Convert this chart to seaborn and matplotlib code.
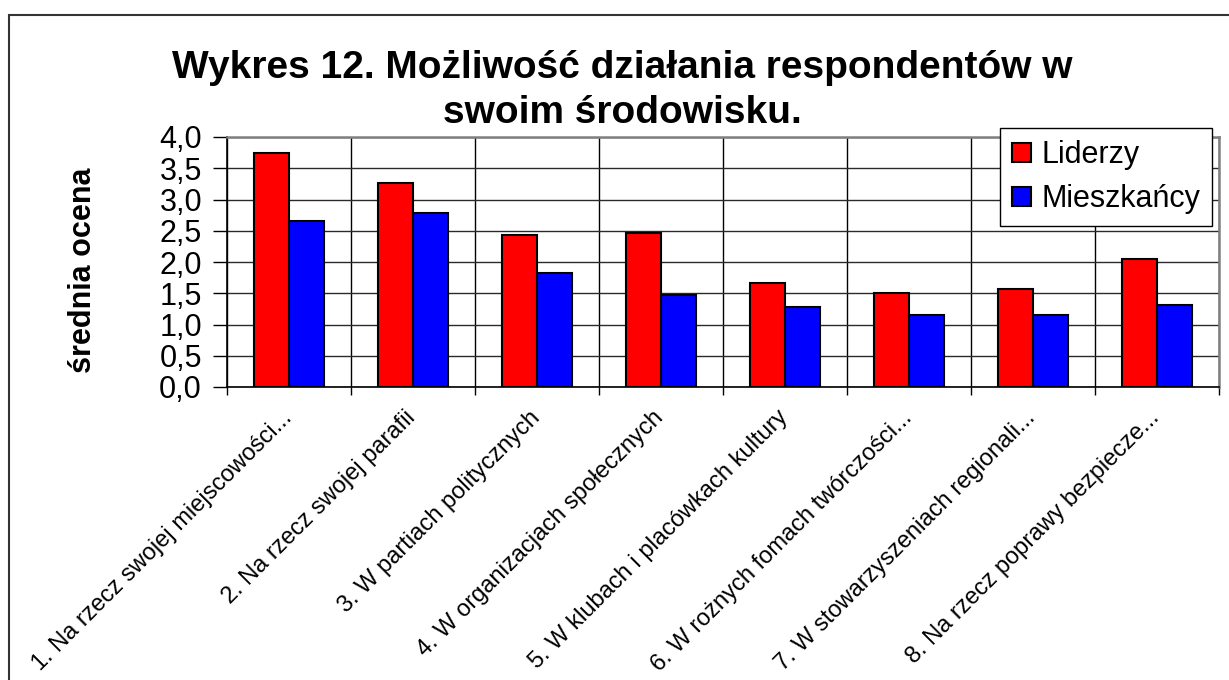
import matplotlib
matplotlib.use('Agg')
import matplotlib.pyplot as plt
import matplotlib.transforms as mtransforms
from matplotlib.ticker import FuncFormatter
from matplotlib.patches import Rectangle
import seaborn as sns
import pandas as pd
import numpy as np

# ---- data ----
categories = [
    "1. Na rzecz swojej miejscowości...",
    "2. Na rzecz swojej parafii",
    "3. W partiach politycznych",
    "4. W organizacjach społecznych",
    "5. W klubach i placówkach kultury",
    "6. W rożnych fomach twórczości...",
    "7. W stowarzyszeniach regionali...",
    "8. Na rzecz poprawy bezpiecze...",
]
liderzy = [3.74, 3.27, 2.43, 2.46, 1.66, 1.51, 1.57, 2.05]
mieszkancy = [2.66, 2.79, 1.83, 1.48, 1.28, 1.16, 1.15, 1.32]
series_names = ["Liderzy", "Mieszkańcy"]
y_ticks = [0.0, 0.5, 1.0, 1.5, 2.0, 2.5, 3.0, 3.5, 4.0]
title_lines = ["Wykres 12. Możliwość działania respondentów w", "swoim środowisku."]
y_label = "średnia ocena"

sns.set_theme(style="white")
plt.rcParams['font.family'] = ['Liberation Sans', 'DejaVu Sans']
plt.rcParams['text.color'] = 'black'
plt.rcParams['axes.labelcolor'] = 'black'
plt.rcParams['xtick.color'] = 'black'
plt.rcParams['ytick.color'] = 'black'

df = pd.DataFrame({
    "kategoria": categories * 2,
    "seria": [series_names[0]] * len(categories) + [series_names[1]] * len(categories),
    "wartosc": liderzy + mieszkancy,
})

W, H = 1229, 680
fig = plt.figure(figsize=(W / 100, H / 100), dpi=100)
fig.patch.set_facecolor('white')
ax = fig.add_axes([227 / W, 1 - 387 / H, 992 / W, 250 / H])

sns.barplot(data=df, x="kategoria", y="wartosc", hue="seria",
            palette=["#FF0000", "#0000FF"], saturation=1, width=0.57, gap=0,
            edgecolor="black", linewidth=1.5, errorbar=None, ax=ax)

ax.set_xlim(-0.5, len(categories) - 0.5)
ax.set_ylim(0, 4)
ax.set_yticks(y_ticks)
ax.yaxis.set_major_formatter(FuncFormatter(lambda v, p: f"{v:.1f}".replace('.', ',')))
ax.tick_params(axis='y', which='major', length=10, width=1, color='black',
               direction='out', labelsize=22, pad=8, left=True, labelcolor='black')

ax.set_xticks(range(len(categories)))
ax.set_xticklabels(categories, rotation=45, ha='right', rotation_mode='anchor',
                   fontsize=17, color='black')
ax.tick_params(axis='x', which='major', length=0, pad=14)
ax.set_xticks(np.arange(-0.5, len(categories), 1.0), minor=True)
ax.tick_params(axis='x', which='minor', length=6, width=1, color='black', direction='out', bottom=True)
offset = mtransforms.ScaledTranslation(-6 / 72, 0, fig.dpi_scale_trans)
for lbl in ax.get_xticklabels():
    lbl.set_transform(lbl.get_transform() + offset)

ax.set_axisbelow(True)
ax.grid(False)
ax.grid(axis='x', which='minor', color='black', linewidth=1)
ax.grid(axis='y', which='major', color='#2a2a2a', linewidth=1)

for s in ['left', 'bottom']:
    ax.spines[s].set_color('black')
    ax.spines[s].set_linewidth(1.2)
for s in ['top', 'right']:
    ax.spines[s].set_color('#808080')
    ax.spines[s].set_linewidth(1.8)

ax.set_xlabel("")
ax.set_ylabel(y_label, fontsize=22, fontweight='bold', color='black')
ax.yaxis.set_label_coords((98 - 227) / 992, (387 - 270) / 250)

handles, labels = ax.get_legend_handles_labels()
leg = ax.legend(handles, labels, loc='upper left',
                bbox_to_anchor=((1000 - 227) / 992, (387 - 128) / 250),
                borderaxespad=0, frameon=True, fancybox=False, edgecolor='black',
                fontsize=22, handlelength=0.6, handleheight=0.6, labelspacing=0.45,
                borderpad=0.4, handletextpad=0.35, framealpha=1)
leg.get_frame().set_linewidth(1)
for t in leg.get_texts():
    t.set_color('black')

for line, yc in zip(title_lines, [68, 113]):
    fig.text(622 / W, 1 - yc / H, line, ha='center', va='center',
             fontsize=28, fontweight='bold', color='black')

fig.patches.append(Rectangle((9 / W, -0.1), 2, 1 - 15 / H + 0.1, transform=fig.transFigure,
                             fill=False, edgecolor='#333333', linewidth=1.5))

fig.savefig('out.png', dpi=100)
